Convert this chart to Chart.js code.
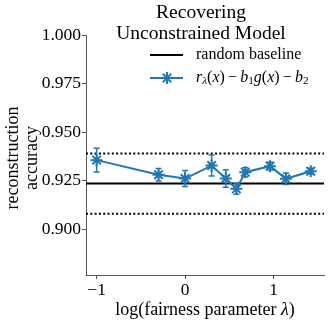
<!DOCTYPE html>
<html>
<head>
<meta charset="utf-8">
<script src="https://cdn.jsdelivr.net/npm/chart.js@4/dist/chart.umd.min.js"></script>
<style>
  html, body { margin: 0; padding: 0; background: #fff; }
</style>
</head>
<body>
<canvas id="chart" width="332" height="320"></canvas>
<script>
// log10 of the fairness parameter, accuracy and its error
const logLambda = [-1, -0.3, 0, 0.3, 0.46, 0.58, 0.68, 0.96, 1.14, 1.42];
const accuracy = [0.9355, 0.928, 0.926, 0.9327, 0.926, 0.9207, 0.9293, 0.9324, 0.9259, 0.9298];
const accuracyErr = [0.0061, 0.0032, 0.0041, 0.0054, 0.0045, 0.0028, 0.0023, 0.002, 0.003, 0.0015];
const baseline = 0.9234;
const baselineBand = [0.9079, 0.9389];
const yTicks = [0.900, 0.925, 0.950, 0.975, 1.000];
const xTicks = [-1, 0, 1];
const xLimits = [-1.12, 1.57];
const yLimits = [0.8763, 1.0];

const BLUE = '#1f77b4';
const SERIF = '"Liberation Serif", "Times New Roman", serif';
const SPINE = '#555';

const across = y => xLimits.map(x => ({ x, y }));

// error bars with caps
const errorBars = {
  id: 'errorBars',
  afterDatasetsDraw(chart) {
    const { ctx, scales: { x, y } } = chart;
    ctx.save();
    ctx.strokeStyle = BLUE;
    ctx.lineWidth = 1.5;
    logLambda.forEach((v, i) => {
      const px = x.getPixelForValue(v);
      const top = y.getPixelForValue(accuracy[i] + accuracyErr[i]);
      const bot = y.getPixelForValue(accuracy[i] - accuracyErr[i]);
      ctx.beginPath();
      ctx.moveTo(px, top); ctx.lineTo(px, bot);
      ctx.moveTo(px - 3, top); ctx.lineTo(px + 3, top);
      ctx.moveTo(px - 3, bot); ctx.lineTo(px + 3, bot);
      ctx.stroke();
    });
    ctx.restore();
  }
};

function drawRich(ctx, parts, x, y, size) {
  parts.forEach(p => {
    const s = p.sub ? size * 0.7 : size;
    ctx.font = (p.it ? 'italic ' : '') + s + 'px ' + SERIF;
    ctx.fillText(p.t, x, y + (p.sub ? size * 0.22 : 0));
    x += ctx.measureText(p.t).width;
  });
}

// title, axis labels, legend
const annotations = {
  id: 'annotations',
  afterDraw(chart) {
    const { ctx, chartArea } = chart;
    ctx.save();
    ctx.fillStyle = '#000';
    ctx.textBaseline = 'middle';
    ctx.textAlign = 'center';
    ctx.font = '19.5px ' + SERIF;
    ctx.fillText('Recovering', 201, 13);
    ctx.fillText('Unconstrained Model', 201, 34);

    ctx.font = '18px ' + SERIF;
    const mid = (chartArea.left + chartArea.right) / 2;
    ctx.textAlign = 'left';
    const pre = 'log(fairness parameter ';
    ctx.font = '18px ' + SERIF;
    const w1 = ctx.measureText(pre).width;
    ctx.font = 'italic 18px ' + SERIF;
    const w2 = ctx.measureText('λ').width;
    ctx.font = '18px ' + SERIF;
    const w3 = ctx.measureText(')').width;
    let sx = mid - (w1 + w2 + w3) / 2;
    drawRich(ctx, [{ t: pre }, { t: 'λ', it: true }, { t: ')' }], sx, 310, 18);

    ctx.save();
    ctx.translate(0, 158);
    ctx.rotate(-Math.PI / 2);
    ctx.textAlign = 'center';
    ctx.font = '18px ' + SERIF;
    ctx.fillText('reconstruction', 0, 13);
    ctx.fillText('accuracy', 0, 32);
    ctx.restore();

    // legend
    ctx.strokeStyle = '#000';
    ctx.lineWidth = 2;
    ctx.beginPath(); ctx.moveTo(150, 55); ctx.lineTo(183, 55); ctx.stroke();
    ctx.textAlign = 'left';
    ctx.font = '16px ' + SERIF;
    ctx.fillText('random baseline', 196, 55);

    ctx.strokeStyle = BLUE;
    ctx.beginPath(); ctx.moveTo(150, 78); ctx.lineTo(183, 78); ctx.stroke();
    const r = 6;
    ctx.beginPath();
    ctx.moveTo(167, 78 - r); ctx.lineTo(167, 78 + r);
    ctx.moveTo(167 - r * 0.7, 78 - r * 0.7); ctx.lineTo(167 + r * 0.7, 78 + r * 0.7);
    ctx.moveTo(167 - r * 0.7, 78 + r * 0.7); ctx.lineTo(167 + r * 0.7, 78 - r * 0.7);
    ctx.stroke();
    ctx.fillStyle = '#000';
    drawRich(ctx, [
      { t: 'r', it: true }, { t: 'λ', it: true, sub: true }, { t: '(' }, { t: 'x', it: true }, { t: ')' },
      { t: '\u2009\u2212\u2009' }, { t: 'b', it: true }, { t: '1', sub: true }, { t: 'g', it: true },
      { t: '(' }, { t: 'x', it: true }, { t: ')' }, { t: '\u2009\u2212\u2009' }, { t: 'b', it: true }, { t: '2', sub: true }
    ], 196, 78, 16);
    ctx.restore();
  }
};

const tickFont = { family: SERIF, size: 17.5 };

new Chart(document.getElementById('chart').getContext('2d'), {
  type: 'line',
  data: {
    datasets: [
      {
        data: logLambda.map((x, i) => ({ x, y: accuracy[i] })),
        borderColor: BLUE,
        backgroundColor: BLUE,
        borderWidth: 2,
        pointStyle: 'star',
        pointRadius: 6,
        pointBorderWidth: 2,
        tension: 0
      },
      { data: across(baseline), borderColor: '#000', borderWidth: 2, pointRadius: 0 },
      { data: across(baselineBand[0]), borderColor: '#000', borderWidth: 2, borderDash: [2, 2.3], pointRadius: 0 },
      { data: across(baselineBand[1]), borderColor: '#000', borderWidth: 2, borderDash: [2, 2.3], pointRadius: 0 }
    ]
  },
  options: {
    responsive: false,
    animation: false,
    devicePixelRatio: 1,
    layout: { padding: { top: 35, left: 0, right: 0, bottom: 0 } },
    plugins: { legend: { display: false }, tooltip: { enabled: false } },
    scales: {
      x: {
        type: 'linear',
        min: xLimits[0],
        max: xLimits[1],
        afterBuildTicks: s => { s.ticks = xTicks.map(value => ({ value })); },
        afterFit: s => { s.height = 45; },
        ticks: {
          font: tickFont, color: '#000', padding: 1, maxRotation: 0, autoSkip: false,
          callback: v => (v < 0 ? '\u2212' + Math.abs(v) : String(v))
        },
        grid: { drawOnChartArea: false, tickLength: 4, color: SPINE, lineWidth: 1 },
        border: { color: SPINE, width: 1 }
      },
      y: {
        min: yLimits[0],
        max: yLimits[1],
        afterBuildTicks: s => { s.ticks = yTicks.map(value => ({ value })); },
        afterFit: s => { s.width = 86; },
        ticks: {
          font: tickFont, color: '#000', padding: 1, autoSkip: false,
          callback: v => v.toFixed(3)
        },
        grid: { drawOnChartArea: false, tickLength: 4, color: SPINE, lineWidth: 1 },
        border: { color: SPINE, width: 1 }
      }
    }
  },
  plugins: [errorBars, annotations]
});
</script>
</body>
</html>
